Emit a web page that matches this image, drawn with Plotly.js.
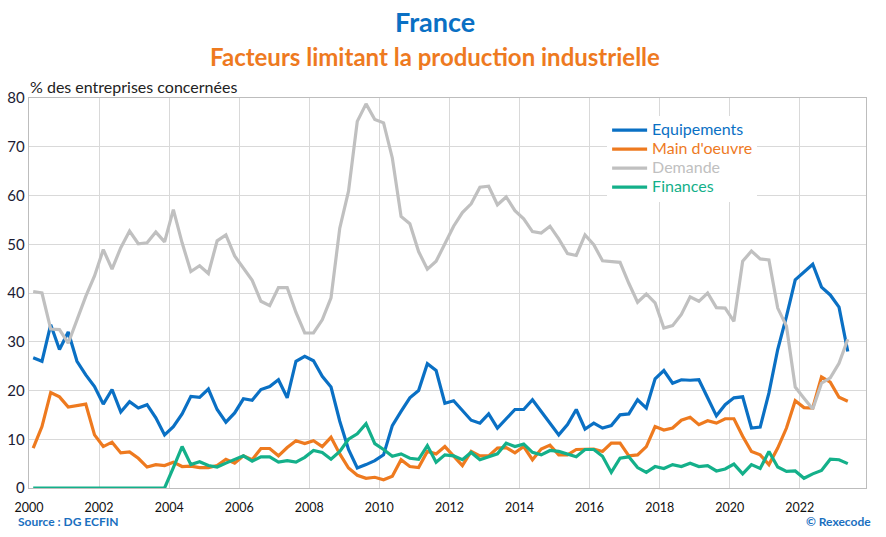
<!DOCTYPE html>
<html>
<head>
<meta charset="utf-8">
<script src="https://cdn.plot.ly/plotly-3.0.1.min.js"></script>
<style>
  html, body { margin: 0; padding: 0; background: #fff; }
  #chart { width: 886px; height: 537px; }
</style>
</head>
<body>
<div id="chart"></div>
<script>
// Quarterly survey: share of firms reporting each factor limiting production (%)
const firstQuarter = 2000.12;   // first survey point (decimal year)
const quarterStep = 0.25;

const equipements = [
  26.7, 26.0, 33.5, 28.4, 32.0, 26.0, 23.2, 20.8, 17.2, 20.2,
  15.6, 17.7, 16.4, 17.1, 14.4, 10.9, 12.6, 15.2, 18.8, 18.6,
  20.3, 16.1, 13.5, 15.4, 18.3, 18.0, 20.2, 20.8, 22.2, 18.5,
  26.0, 27.0, 26.1, 22.9, 20.7, 13.7, 7.9, 4.1, 4.8, 5.6,
  6.8, 12.8, 15.7, 18.5, 20.0, 25.5, 24.1, 17.4, 17.9, 15.9,
  13.9, 13.3, 15.2, 12.3, 14.1, 16.1, 16.1, 18.1, 15.7, 13.3,
  10.9, 13.0, 16.1, 12.1, 13.3, 12.3, 12.8, 15.0, 15.2, 18.1,
  16.4, 22.4, 24.1, 21.5, 22.2, 22.1, 22.2, 18.5, 14.8, 17.1,
  18.5, 18.7, 12.3, 12.5, 19.5, 28.4, 35.2, 42.7, 44.2, 45.9,
  41.2, 39.6, 37.1, 28.0
];

const mainOeuvre = [
  8.2, 12.6, 19.6, 18.7, 16.6, 16.9, 17.2, 10.9, 8.5, 9.4,
  7.2, 7.4, 6.1, 4.3, 4.8, 4.6, 5.3, 4.4, 4.5, 4.2,
  4.2, 4.6, 5.9, 5.1, 6.6, 5.8, 8.1, 8.1, 6.6, 8.3,
  9.7, 9.1, 9.7, 8.5, 10.4, 7.0, 4.1, 2.6, 2.0, 2.2,
  1.7, 2.4, 5.8, 4.4, 4.2, 7.5, 7.0, 8.5, 6.5, 4.6,
  7.5, 6.6, 6.6, 8.2, 8.3, 7.2, 8.5, 5.8, 8.0, 8.8,
  6.8, 6.8, 7.9, 8.0, 8.0, 7.5, 9.2, 9.2, 6.6, 6.8,
  8.5, 12.6, 11.9, 12.3, 13.9, 14.5, 13.0, 13.8, 13.3, 14.2,
  14.2, 10.6, 7.5, 6.8, 4.8, 8.2, 12.3, 17.9, 16.5, 16.4,
  22.8, 21.7, 18.6, 17.8
];

const demande = [
  40.3, 40.0, 32.6, 32.5, 29.7, 34.5, 39.3, 43.5, 48.9, 44.9,
  49.3, 52.7, 50.1, 50.3, 52.5, 50.5, 57.1, 50.3, 44.4, 45.6,
  44.0, 50.7, 51.9, 47.6, 45.1, 42.6, 38.3, 37.4, 41.1, 41.1,
  36.0, 31.8, 31.8, 34.5, 39.0, 53.3, 60.9, 75.2, 78.8, 75.6,
  74.9, 67.7, 55.7, 54.2, 48.5, 44.9, 46.5, 50.2, 53.7, 56.5,
  58.3, 61.7, 61.9, 58.1, 59.7, 56.9, 55.2, 52.6, 52.3, 53.7,
  51.1, 48.1, 47.7, 51.9, 49.9, 46.6, 46.5, 46.3, 42.0, 38.1,
  39.8, 38.0, 32.8, 33.3, 35.6, 39.2, 38.3, 40.0, 37.0, 36.9,
  34.2, 46.5, 48.6, 47.0, 46.8, 36.9, 33.2, 20.7, 18.4, 16.2,
  21.5, 22.6, 25.6, 30.5
];

const finances = [
  0, 0, 0, 0, 0, 0, 0, 0, 0, 0,
  0, 0, 0, 0, 0, 0, 4.2, 8.5, 4.8, 5.4,
  4.6, 4.3, 5.1, 5.8, 6.6, 5.5, 6.4, 6.4, 5.3, 5.6,
  5.3, 6.3, 7.7, 7.3, 5.9, 7.5, 10.0, 11.1, 13.2, 9.1,
  7.9, 6.5, 7.0, 6.1, 5.9, 8.7, 5.3, 6.8, 6.6, 5.8,
  7.3, 5.8, 6.4, 7.0, 9.2, 8.5, 9.0, 7.3, 6.8, 7.7,
  7.5, 7.0, 6.4, 7.9, 7.9, 6.5, 3.2, 6.1, 6.4, 4.2,
  3.2, 4.4, 4.0, 4.8, 4.4, 5.1, 4.4, 4.6, 3.5, 3.9,
  4.9, 2.9, 4.8, 4.0, 7.5, 4.3, 3.4, 3.5, 2.0, 2.9,
  3.6, 5.9, 5.8, 5.0
];

const seriesNames = ["Equipements", "Main d'oeuvre", "Demande", "Finances"];
const seriesColors = ["#0a70c4", "#ee7a1f", "#c0c0c0", "#14b08a"];
const yTicks = [0, 10, 20, 30, 40, 50, 60, 70, 80];
const xTicks = [2000, 2002, 2004, 2006, 2008, 2010, 2012, 2014, 2016, 2018, 2020, 2022];

const quarters = equipements.map((_, i) => firstQuarter + i * quarterStep);
const FONT = "Lato, 'Open Sans', sans-serif";

// Legend entries are coloured like their lines; the legend's own font size is kept
// small so the rows stay tight while the span sets the visible text size.
const traces = [equipements, mainOeuvre, demande, finances].map((vals, k) => ({
  type: "scatter",
  mode: "lines",
  x: quarters,
  y: vals,
  name: '<span style="color:' + seriesColors[k] + ';font-size:16px">' + seriesNames[k] + '</span>',
  line: { color: seriesColors[k], width: 3.2 },
  hoverinfo: "skip"
}));

const layout = {
  width: 886,
  height: 537,
  margin: { l: 28.7, r: 20, t: 98.3, b: 48.7, pad: 0 },
  paper_bgcolor: "#ffffff",
  plot_bgcolor: "#ffffff",
  font: { family: FONT, color: "#222222", size: 14 },
  showlegend: true,
  legend: {
    x: 0.6907, y: 0.955, xanchor: "left", yanchor: "top",
    bgcolor: "#ffffff", borderwidth: 0,
    font: { family: FONT, size: 12 },
    itemwidth: 35,
    tracegroupgap: 0
  },
  xaxis: {
    range: [2000, 2023.89],
    tickvals: xTicks,
    ticktext: xTicks.map(String),
    showgrid: true, gridcolor: "#d9d9d9", gridwidth: 1,
    zeroline: false,
    showline: true, linecolor: "#bdbdbd", linewidth: 1.3, mirror: true,
    ticks: "",
    ticklabelstandoff: 8,
    tickfont: { family: FONT, size: 12.5, color: "#111111" }
  },
  yaxis: {
    range: [0, 80],
    tickvals: yTicks,
    ticktext: yTicks.map(String),
    showgrid: true, gridcolor: "#d9d9d9", gridwidth: 1,
    zeroline: false,
    showline: true, linecolor: "#bdbdbd", linewidth: 1.3, mirror: true,
    ticks: "",
    tickfont: { family: FONT, size: 15, color: "#1b1b33" }
  },
  annotations: [
    {
      text: "<b>France</b>", xref: "paper", yref: "paper",
      x: 0.4853, y: 1.196, xanchor: "center", yanchor: "middle", showarrow: false,
      font: { family: FONT, size: 27, color: "#0a70c4" }
    },
    {
      text: "<b>Facteurs limitant la production industrielle</b>", xref: "paper", yref: "paper",
      x: 0.4853, y: 1.106, xanchor: "center", yanchor: "middle", showarrow: false,
      font: { family: FONT, size: 24, color: "#ee7a1f" }
    },
    {
      text: "% des entreprises concernées", xref: "paper", yref: "paper",
      x: -0.001, y: 1.03, xanchor: "left", yanchor: "middle", showarrow: false,
      font: { family: FONT, size: 16, color: "#222222" }
    },
    {
      text: "<b>Source : DG ECFIN</b>", xref: "paper", yref: "paper",
      x: -0.016, y: -0.086, xanchor: "left", yanchor: "middle", showarrow: false,
      font: { family: FONT, size: 12, color: "#1a6fc0" }
    },
    {
      text: "<b>© Rexecode</b>", xref: "paper", yref: "paper",
      x: 1.008, y: -0.086, xanchor: "right", yanchor: "middle", showarrow: false,
      font: { family: FONT, size: 12, color: "#1a6fc0" }
    }
  ]
};

Plotly.newPlot("chart", traces, layout, { staticPlot: true, displayModeBar: false });
</script>
</body>
</html>
